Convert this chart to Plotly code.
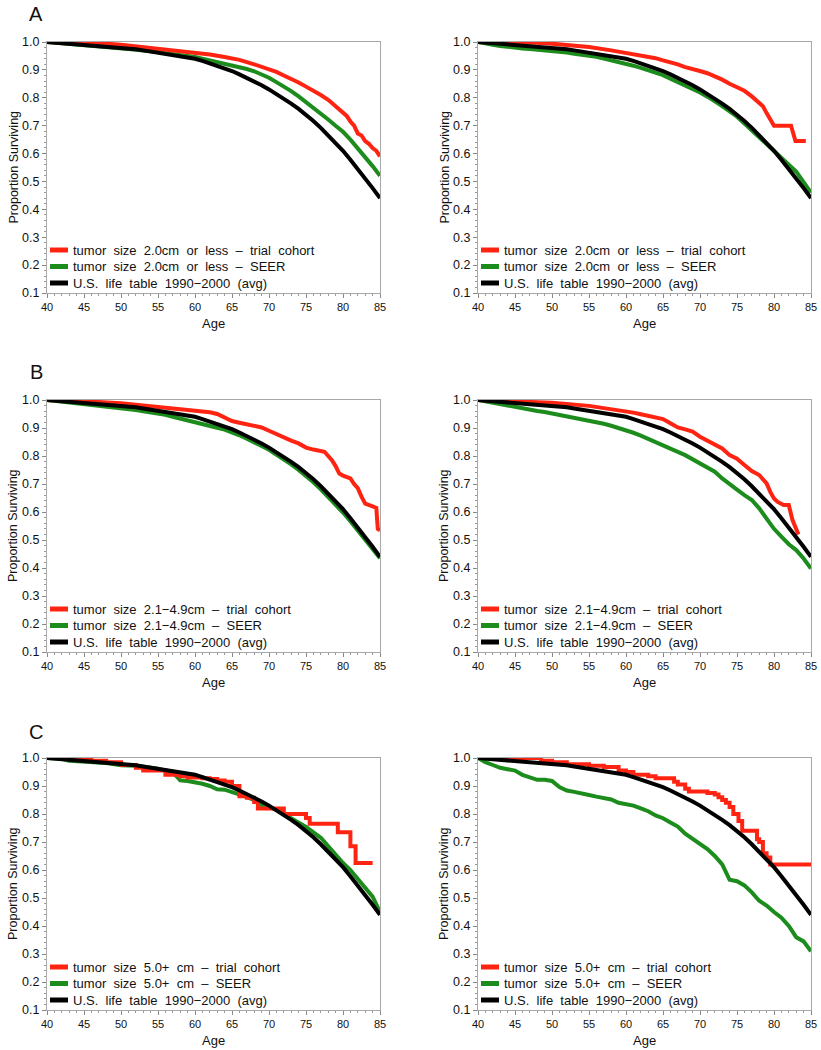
import plotly.graph_objects as go

# ---------------- data ----------------
AGES = list(range(40, 86))

LIFE_TABLE = [1.000, 0.998, 0.996, 0.994, 0.993, 0.991, 0.989, 0.987, 0.985, 0.983,
              0.980, 0.977, 0.974, 0.970, 0.966, 0.962, 0.958, 0.954, 0.949, 0.945,
              0.940, 0.932, 0.923, 0.915, 0.906, 0.896, 0.884, 0.872, 0.859, 0.845,
              0.830, 0.814, 0.797, 0.779, 0.760, 0.740, 0.717, 0.692, 0.666, 0.639,
              0.610, 0.578, 0.545, 0.511, 0.476, 0.440]

# Panel A (tumor size 2.0cm or less)
AL_SEER = [1.000, 0.998, 0.996, 0.994, 0.991, 0.989, 0.987, 0.984, 0.982, 0.980,
           0.977, 0.975, 0.972, 0.970, 0.967, 0.964, 0.960, 0.957, 0.953, 0.950,
           0.946, 0.940, 0.934, 0.928, 0.923, 0.917, 0.910, 0.903, 0.895, 0.884,
           0.872, 0.856, 0.841, 0.824, 0.805, 0.785, 0.764, 0.743, 0.722, 0.700,
           0.678, 0.650, 0.620, 0.588, 0.555, 0.520]
AL_TRIAL_AGE = [40, 42, 44, 46, 48, 50, 52, 54, 56, 58, 60, 62, 64, 66, 68, 70, 71, 72, 73, 74,
                75, 76, 77, 78, 79, 80, 80.5, 81, 81.5, 82, 82.5, 83, 83.5, 84, 84.5, 85]
AL_TRIAL = [1.000, 0.999, 0.998, 0.996, 0.994, 0.990, 0.984, 0.980, 0.975, 0.969, 0.961, 0.955,
            0.946, 0.936, 0.920, 0.903, 0.893, 0.880, 0.868, 0.855, 0.840, 0.826, 0.810, 0.793,
            0.770, 0.745, 0.735, 0.715, 0.700, 0.672, 0.665, 0.645, 0.635, 0.620, 0.610, 0.590]

AR_SEER = [1.000, 0.994, 0.990, 0.986, 0.982, 0.979, 0.977, 0.975, 0.973, 0.971,
           0.968, 0.965, 0.962, 0.958, 0.955, 0.952, 0.947, 0.941, 0.935, 0.929,
           0.923, 0.915, 0.907, 0.898, 0.890, 0.881, 0.868, 0.856, 0.844, 0.832,
           0.819, 0.804, 0.788, 0.770, 0.751, 0.732, 0.708, 0.684, 0.660, 0.636,
           0.610, 0.585, 0.560, 0.535, 0.500, 0.460]
AR_TRIAL_AGE = [40, 45, 48, 50, 52, 55, 58, 60, 62, 64, 65, 66, 67, 68, 69, 70, 71, 72, 73, 74,
                75, 76, 77, 78, 78.5, 79, 79.5, 80, 82.3, 82.6, 82.9, 84.3]
AR_TRIAL = [1.000, 0.999, 0.997, 0.994, 0.990, 0.982, 0.970, 0.961, 0.952, 0.942, 0.934, 0.928,
            0.920, 0.910, 0.904, 0.896, 0.888, 0.878, 0.865, 0.850, 0.837, 0.825, 0.805, 0.780,
            0.770, 0.745, 0.720, 0.700, 0.700, 0.675, 0.645, 0.645]

# Panel B (tumor size 2.1-4.9cm)
BL_SEER = [1.000, 0.997, 0.995, 0.992, 0.990, 0.988, 0.985, 0.982, 0.979, 0.975,
           0.972, 0.968, 0.964, 0.960, 0.956, 0.952, 0.947, 0.940, 0.934, 0.928,
           0.922, 0.915, 0.908, 0.901, 0.894, 0.885, 0.874, 0.862, 0.850, 0.836,
           0.822, 0.806, 0.789, 0.770, 0.750, 0.730, 0.706, 0.681, 0.655, 0.627,
           0.598, 0.567, 0.535, 0.502, 0.469, 0.435]
BL_TRIAL_AGE = [40, 45, 50, 55, 60, 61, 62, 63, 64, 65, 66, 67, 68, 69, 70, 71, 72, 73, 74, 75,
                76, 77, 77.5, 78, 78.5, 79, 79.5, 80, 81, 81.5, 82, 82.5, 83, 84, 84.5, 84.7, 85]
BL_TRIAL = [1.000, 0.996, 0.988, 0.976, 0.964, 0.960, 0.956, 0.950, 0.938, 0.925, 0.919, 0.914,
            0.910, 0.902, 0.890, 0.878, 0.865, 0.855, 0.845, 0.830, 0.823, 0.817, 0.815, 0.800,
            0.785, 0.764, 0.737, 0.730, 0.720, 0.700, 0.685, 0.655, 0.630, 0.620, 0.615, 0.540, 0.535]

BR_SEER = [1.000, 0.995, 0.990, 0.984, 0.979, 0.973, 0.969, 0.965, 0.961, 0.957,
           0.952, 0.947, 0.943, 0.938, 0.933, 0.928, 0.922, 0.915, 0.908, 0.900,
           0.893, 0.883, 0.873, 0.862, 0.851, 0.839, 0.827, 0.815, 0.803, 0.789,
           0.774, 0.762, 0.744, 0.720, 0.702, 0.680, 0.660, 0.643, 0.613, 0.577,
           0.540, 0.512, 0.485, 0.464, 0.434, 0.398]
BR_TRIAL_AGE = [40, 45, 50, 55, 60, 61, 62, 63, 64, 65, 66, 67, 68, 69, 70, 71, 72, 73, 74, 75,
                76, 77, 78, 79, 79.5, 80, 80.5, 81.3, 82, 82.5, 83.3]
BR_TRIAL = [1.000, 0.996, 0.990, 0.979, 0.961, 0.955, 0.949, 0.943, 0.937, 0.932, 0.917, 0.902,
            0.895, 0.887, 0.869, 0.855, 0.839, 0.827, 0.803, 0.790, 0.768, 0.746, 0.732, 0.702,
            0.672, 0.648, 0.636, 0.625, 0.625, 0.571, 0.520]

# Panel C (tumor size 5.0+ cm)
CL_SEER_AGE = [40, 42, 43, 45, 48, 50, 52, 55, 56, 57, 57.5, 58, 59, 60, 61, 62, 63, 64, 65, 66,
               67, 68, 69, 70, 71, 72, 73, 74, 75, 77, 79, 80, 81, 82, 83, 84, 85]
CL_SEER = [1.000, 0.997, 0.990, 0.988, 0.982, 0.974, 0.972, 0.962, 0.955, 0.947, 0.935, 0.920,
           0.918, 0.914, 0.908, 0.900, 0.888, 0.887, 0.879, 0.870, 0.861, 0.849, 0.832, 0.825,
           0.815, 0.800, 0.784, 0.772, 0.754, 0.715, 0.653, 0.625, 0.600, 0.570, 0.540, 0.505, 0.450]
CL_TRIAL_AGE = [40, 45, 46, 48, 50, 52, 53, 56, 58, 59, 61, 62, 63, 64, 65, 66, 67, 68, 68.5, 71,
                72, 74.5, 75, 75.5, 79, 79.3, 81, 81.7, 84]
CL_TRIAL = [1.000, 0.995, 0.990, 0.985, 0.975, 0.965, 0.955, 0.940, 0.935, 0.930, 0.928, 0.925,
            0.920, 0.915, 0.900, 0.863, 0.858, 0.843, 0.820, 0.820, 0.800, 0.800, 0.786, 0.765,
            0.765, 0.735, 0.685, 0.625, 0.625]

CR_SEER = [1.000, 0.985, 0.975, 0.965, 0.960, 0.955, 0.940, 0.930, 0.922, 0.922,
           0.918, 0.896, 0.884, 0.879, 0.875, 0.868, 0.862, 0.857, 0.852, 0.840,
           0.835, 0.830, 0.820, 0.810, 0.795, 0.785, 0.770, 0.755, 0.730, 0.713,
           0.695, 0.675, 0.650, 0.620, 0.565, 0.560, 0.545, 0.520, 0.490, 0.473,
           0.450, 0.430, 0.400, 0.360, 0.345, 0.310]
CR_TRIAL_AGE = [40, 48, 48.5, 50, 52, 55, 57, 59, 60, 61, 63, 64, 66.5, 67, 68, 68.5, 71, 72, 72.5,
                73, 73.5, 74, 74.5, 75.2, 75.7, 77.7, 78, 78.5, 79, 79.5, 85]
CR_TRIAL = [1.000, 1.000, 0.990, 0.985, 0.978, 0.972, 0.968, 0.955, 0.950, 0.940, 0.935, 0.928,
            0.915, 0.905, 0.890, 0.880, 0.875, 0.870, 0.860, 0.850, 0.840, 0.825, 0.800, 0.775,
            0.740, 0.710, 0.700, 0.660, 0.645, 0.620, 0.620]

LEGEND_A = ["tumor  size  2.0cm  or  less  \u2013  trial  cohort",
            "tumor  size  2.0cm  or  less  \u2013  SEER",
            "U.S.  life  table  1990\u22122000  (avg)"]
LEGEND_B = ["tumor  size  2.1\u22124.9cm  \u2013  trial  cohort",
            "tumor  size  2.1\u22124.9cm  \u2013  SEER",
            "U.S.  life  table  1990\u22122000  (avg)"]
LEGEND_C = ["tumor  size  5.0+  cm  \u2013  trial  cohort",
            "tumor  size  5.0+  cm  \u2013  SEER",
            "U.S.  life  table  1990\u22122000  (avg)"]

PANEL_LETTERS = ["A", "B", "C"]
X_TICKS = [40, 45, 50, 55, 60, 65, 70, 75, 80, 85]
Y_TICKS = [0.1, 0.2, 0.3, 0.4, 0.5, 0.6, 0.7, 0.8, 0.9, 1.0]
X_TITLE = "Age"
Y_TITLE = "Proportion Surviving"

# ---------------- styling / layout ----------------
W, H = 821, 1050
RED = "#FF2412"
GREEN = "#1C8C1C"
BLACK = "#000000"
FONT = "Liberation Sans, Arial, Helvetica, sans-serif"

COLS = [(47, 380), (478, 811)]               # pixel x extents of plot areas
ROWS = [(42, 293), (400, 652), (758, 1010)]  # pixel y extents of plot areas


def fx(p):
    return p / W


def fy(p):
    return 1 - p / H


panels = [
    # (row, col, seer_x, seer_y, trial_x, trial_y, trial_shape, legend)
    (0, 0, AGES, AL_SEER, AL_TRIAL_AGE, AL_TRIAL, "linear", LEGEND_A),
    (0, 1, AGES, AR_SEER, AR_TRIAL_AGE, AR_TRIAL, "linear", LEGEND_A),
    (1, 0, AGES, BL_SEER, BL_TRIAL_AGE, BL_TRIAL, "linear", LEGEND_B),
    (1, 1, AGES, BR_SEER, BR_TRIAL_AGE, BR_TRIAL, "linear", LEGEND_B),
    (2, 0, CL_SEER_AGE, CL_SEER, CL_TRIAL_AGE, CL_TRIAL, "hv", LEGEND_C),
    (2, 1, AGES, CR_SEER, CR_TRIAL_AGE, CR_TRIAL, "hv", LEGEND_C),
]

fig = go.Figure()
annotations = []
shapes = []
layout_axes = {}

for i, (r, c, sx, sy, tx, ty, tshape, legend) in enumerate(panels):
    n = i + 1
    xa = "x" if n == 1 else f"x{n}"
    ya = "y" if n == 1 else f"y{n}"
    xl, xr = COLS[c]
    yt, yb = ROWS[r]

    fig.add_trace(go.Scatter(x=sx, y=sy, mode="lines", xaxis=xa, yaxis=ya,
                             line=dict(color=GREEN, width=4), name=legend[1],
                             showlegend=False))
    fig.add_trace(go.Scatter(x=tx, y=ty, mode="lines", xaxis=xa, yaxis=ya,
                             line=dict(color=RED, width=4, shape=tshape), name=legend[0],
                             showlegend=False))
    fig.add_trace(go.Scatter(x=AGES, y=LIFE_TABLE, mode="lines", xaxis=xa, yaxis=ya,
                             line=dict(color=BLACK, width=4), name=legend[2],
                             showlegend=False))

    common = dict(showline=True, mirror=True, linecolor="#A8A8A8", linewidth=1,
                  showgrid=False, zeroline=False, ticks="outside", ticklen=4,
                  tickcolor="#888888", tickwidth=1, automargin=False)
    layout_axes["xaxis" if n == 1 else f"xaxis{n}"] = dict(
        domain=[fx(xl), fx(xr)], range=[40, 85], anchor=ya,
        tickvals=X_TICKS, tickfont=dict(size=11, color="#111", family=FONT),
        minor=dict(dtick=1, tick0=40, ticks="outside", ticklen=2, tickcolor="#999999"),
        **common)
    layout_axes["yaxis" if n == 1 else f"yaxis{n}"] = dict(
        domain=[fy(yb), fy(yt)], range=[0.1, 1.0], anchor=xa,
        tickvals=Y_TICKS, tickformat=".1f",
        tickfont=dict(size=12.5, color="#111", family=FONT),
        minor=dict(dtick=0.02, tick0=0.1, ticks="outside", ticklen=2, tickcolor="#999999"),
        **common)

    # axis titles
    annotations.append(dict(text=X_TITLE, x=fx((xl + xr) / 2), y=fy(yb + 30),
                            xref="paper", yref="paper", showarrow=False,
                            font=dict(size=13, family=FONT, color="#111"),
                            xanchor="center", yanchor="middle"))
    annotations.append(dict(text=Y_TITLE, x=fx(xl - 34), y=fy((yt + yb) / 2),
                            xref="paper", yref="paper", showarrow=False, textangle=-90,
                            font=dict(size=12.5, family=FONT, color="#111"),
                            xanchor="center", yanchor="middle"))

    # legend (inside, lower left)
    colors = [RED, GREEN, BLACK]
    offsets = [43, 26.5, 10]
    for k in range(3):
        yy = yb - offsets[k]
        shapes.append(dict(type="line", xref="paper", yref="paper",
                           x0=fx(xl + 3), x1=fx(xl + 21), y0=fy(yy), y1=fy(yy),
                           line=dict(color=colors[k], width=5)))
        annotations.append(dict(text=legend[k], x=fx(xl + 24), y=fy(yy),
                                xref="paper", yref="paper", showarrow=False,
                                font=dict(size=13, family=FONT, color="#111"),
                                xanchor="left", yanchor="middle"))

# panel letters
letter_y = [14, 372, 732]
for r in range(3):
    annotations.append(dict(text=PANEL_LETTERS[r], x=fx(36), y=fy(letter_y[r]),
                            xref="paper", yref="paper", showarrow=False,
                            font=dict(size=20, family=FONT, color="#111"),
                            xanchor="center", yanchor="middle"))

fig.update_layout(
    width=W, height=H,
    margin=dict(l=0, r=0, t=0, b=0),
    paper_bgcolor="white", plot_bgcolor="white",
    font=dict(family=FONT, color="#111"),
    showlegend=False,
    annotations=annotations,
    shapes=shapes,
    **layout_axes,
)

fig.write_html("out.html",
               config={"displayModeBar": False},
               post_script="document.body.style.margin='0';document.body.style.overflow='hidden';")
